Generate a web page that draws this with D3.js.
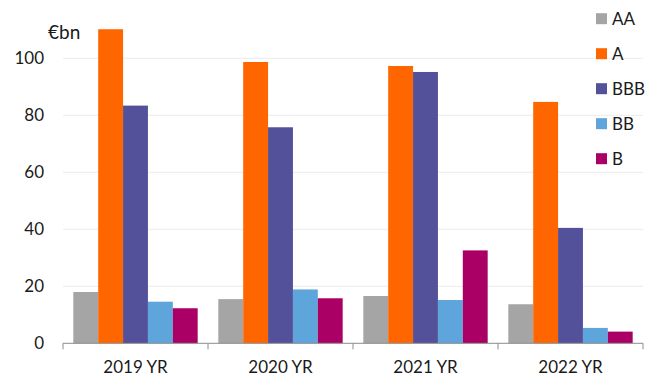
<!DOCTYPE html>
<html>
<head>
<meta charset="utf-8">
<script src="https://cdn.jsdelivr.net/npm/d3@7"></script>
<style>
  body { margin: 0; background: #fff; }
  svg text { font-family: Lato, "Open Sans", sans-serif; fill: #1a1a1a; }
</style>
</head>
<body>
<svg id="chart" width="658" height="386"></svg>
<script>
const years = ['2019 YR', '2020 YR', '2021 YR', '2022 YR'];
const ratings = ['AA', 'A', 'BBB', 'BB', 'B'];
const colors = ['#a5a5a5', '#ff6600', '#525199', '#5da5da', '#aa0066'];

const aa = [18.0, 15.5, 16.6, 13.7];
const a = [110.2, 98.7, 97.3, 84.7];
const bbb = [83.4, 75.8, 95.2, 40.5];
const bb = [14.6, 18.9, 15.2, 5.4];
const b = [12.3, 15.8, 32.6, 4.1];
const series = [aa, a, bbb, bb, b];

const yTicks = [0, 20, 40, 60, 80, 100];

const margin = { left: 63, right: 15, top: 0, bottom: 43 };
const plotRight = 643;

const svg = d3.select('#chart');

const x = d3.scaleBand()
  .domain(years)
  .range([margin.left, plotRight])
  .paddingInner(0)
  .paddingOuter(0);

const xi = d3.scaleBand()
  .domain(ratings)
  .range([0, x.bandwidth()])
  .paddingOuter(0.415)
  .paddingInner(0);

const y = d3.scaleLinear()
  .domain([0, 100])
  .range([343.3, 58.3]);

// gridlines
svg.append('g')
  .selectAll('line')
  .data(yTicks.filter(d => d > 0))
  .enter().append('line')
  .attr('x1', margin.left)
  .attr('x2', plotRight)
  .attr('y1', d => y(d))
  .attr('y2', d => y(d))
  .attr('stroke', '#ececec')
  .attr('stroke-width', 1);

// y labels
svg.append('g')
  .selectAll('text')
  .data(yTicks)
  .enter().append('text')
  .attr('x', 44)
  .attr('y', d => y(d))
  .attr('dy', '0.35em')
  .attr('text-anchor', 'end')
  .attr('font-size', 17)
  .text(d => d);

svg.append('text')
  .attr('x', 48)
  .attr('y', 39)
  .attr('font-size', 19)
  .text('€bn');

// bars
const groups = svg.append('g')
  .selectAll('g')
  .data(years)
  .enter().append('g')
  .attr('transform', d => `translate(${x(d)},0)`);

groups.selectAll('rect')
  .data((d, i) => ratings.map((r, j) => ({ r, v: series[j][i], c: colors[j] })))
  .enter().append('rect')
  .attr('x', d => xi(d.r))
  .attr('width', xi.bandwidth())
  .attr('y', d => y(d.v))
  .attr('height', d => y(0) - y(d.v))
  .attr('fill', d => d.c);

// x axis
svg.append('line')
  .attr('x1', margin.left).attr('x2', plotRight)
  .attr('y1', y(0)).attr('y2', y(0))
  .attr('stroke', '#8c8c8c');

const edges = years.map(d => x(d)).concat([plotRight]);
svg.append('g')
  .selectAll('line')
  .data(edges)
  .enter().append('line')
  .attr('x1', d => d).attr('x2', d => d)
  .attr('y1', y(0)).attr('y2', y(0) + 6)
  .attr('stroke', '#8c8c8c');

svg.append('g')
  .selectAll('text')
  .data(years)
  .enter().append('text')
  .attr('x', d => x(d) + x.bandwidth() / 2)
  .attr('y', 373)
  .attr('text-anchor', 'middle')
  .attr('font-size', 17)
  .text(d => d);

// legend
const legend = svg.append('g')
  .selectAll('g')
  .data(ratings)
  .enter().append('g')
  .attr('transform', (d, i) => `translate(596,${18.7 + i * 35})`);

legend.append('rect')
  .attr('x', 0).attr('y', -5.5)
  .attr('width', 11).attr('height', 11)
  .attr('fill', (d, i) => colors[i]);

legend.append('text')
  .attr('x', 16)
  .attr('y', 0)
  .attr('dy', '0.35em')
  .attr('font-size', 17)
  .text(d => d);
</script>
</body>
</html>
